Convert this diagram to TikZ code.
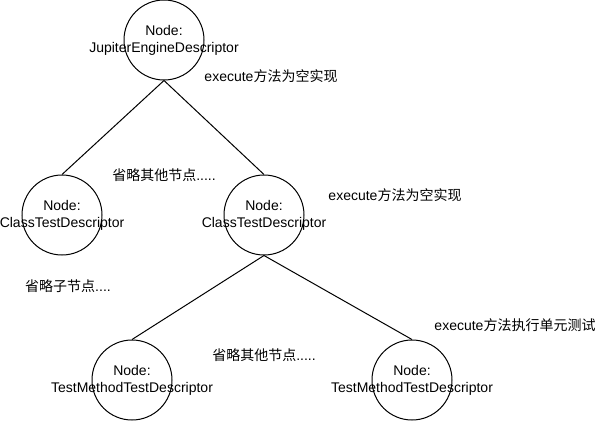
\documentclass[tikz,border=0pt]{standalone}
\usepackage{fontspec}
\setmainfont{Liberation Sans}
\newfontfamily\cjk{Noto Sans CJK SC}
\newcommand{\zh}[1]{{\cjk #1}}

\begin{document}
\begin{tikzpicture}[x=1pt, y=-1pt,
    descnode/.style={circle, draw, line width=1pt, minimum size=80pt, inner sep=0pt},
    desctext/.style={align=center, inner sep=0pt, font=\fontsize{14}{17}\selectfont},
    note/.style={inner sep=0pt, font=\fontsize{14}{17}\selectfont}]
    \useasboundingbox (0,0) rectangle (599,421);
    \node[descnode] (jupiter) at (164, 40) {};
    \node[descnode] (classleft) at (62, 215) {};
    \node[descnode] (classright) at (264, 215) {};
    \node[descnode] (methodleft) at (132, 380) {};
    \node[descnode] (methodright) at (412, 380) {};
    \node[desctext] (jupitertext) at (jupiter) {Node:\\JupiterEngineDescriptor};
    \node[desctext] (classlefttext) at (classleft) {Node:\\ClassTestDescriptor};
    \node[desctext] (classrighttext) at (classright) {Node:\\ClassTestDescriptor};
    \node[desctext] (methodlefttext) at (methodleft) {Node:\\TestMethodTestDescriptor};
    \node[desctext] (methodrighttext) at (methodright) {Node:\\TestMethodTestDescriptor};
    \node[note] (execroot) at (271, 76) {execute\zh{方法为空实现}};
    \node[note] (otherstop) at (164, 175) {\zh{省略其他节点}.....};
    \node[note] (execclass) at (395, 195) {execute\zh{方法为空实现}};
    \node[note] (omitchild) at (68, 286) {\zh{省略子节点}....};
    \node[note] (othersbottom) at (264, 355) {\zh{省略其他节点}.....};
    \node[note] (execmethod) at (515, 325) {execute\zh{方法执行单元测试}};
    \draw [line width=1pt] (jupiter.south) -- (classleft.north);
    \draw [line width=1pt] (jupiter.south) -- (classright.north);
    \draw [line width=1pt] (classright.south) -- (methodleft.north);
    \draw [line width=1pt] (classright.south) -- (methodright.north);
\end{tikzpicture}
\end{document}
